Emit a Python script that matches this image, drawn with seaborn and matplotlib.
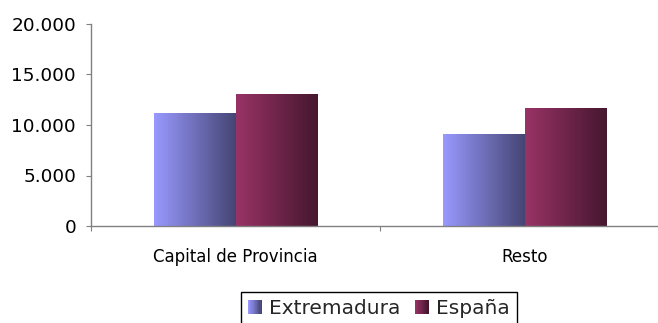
import numpy as np
import pandas as pd
import matplotlib
matplotlib.use("Agg")
import matplotlib.pyplot as plt
import seaborn as sns
from matplotlib.patches import Rectangle, Patch
from matplotlib.legend_handler import HandlerBase
from matplotlib.ticker import FuncFormatter, FixedLocator
from matplotlib.colors import to_rgb

# ---- data ----
categorias = ["Capital de Provincia", "Resto"]
series = ["Extremadura", "España"]
extremadura = [11100, 9100]
espana = [13050, 11600]
y_ticks = [0, 5000, 10000, 15000, 20000]

# gradient colours (left -> right) per series
grad_colors = {
    "Extremadura": ("#9999FF", "#454574"),
    "España": ("#993366", "#46172F"),
}

df = pd.DataFrame({
    "categoria": categorias * 2,
    "serie": [series[0]] * 2 + [series[1]] * 2,
    "valor": extremadura + espana,
})

sns.set_style("white")
plt.rcParams["font.family"] = ["DejaVu Sans"]

W, H = 658, 323
fig = plt.figure(figsize=(W / 100, H / 100), dpi=100)
ax = fig.add_axes([91 / W, 1 - 226 / H, 578 / W, 202 / H])

palette = {"Extremadura": "#9999FF", "España": "#993366"}
sns.barplot(data=df, x="categoria", y="valor", hue="serie", order=categorias,
            hue_order=series, palette=palette, width=0.567, ax=ax,
            legend=False, saturation=1, edgecolor="none", linewidth=0)

# replace each bar by a horizontal gradient
key_by_color = {tuple(np.round(to_rgb(v), 3)): k for k, v in palette.items()}
for p in list(ax.patches):
    fc = tuple(np.round(p.get_facecolor()[:3], 3))
    name = key_by_color.get(fc)
    if name is None:
        continue
    x0, y0 = p.get_x(), p.get_y()
    w, h = p.get_width(), p.get_height()
    c0 = np.array(to_rgb(grad_colors[name][0]))
    c1 = np.array(to_rgb(grad_colors[name][1]))
    t = np.linspace(0, 1, 256)[None, :, None]
    img = c0[None, None, :] * (1 - t) + c1[None, None, :] * t
    ax.imshow(img, extent=[x0, x0 + w, y0, y0 + h], aspect="auto",
              interpolation="bilinear", zorder=2)
    p.set_visible(False)

ax.set_xlim(-0.5, 1.5)
ax.set_ylim(0, 20000)
ax.set_xlabel("")
ax.set_ylabel("")

ax.set_yticks(y_ticks)
ax.yaxis.set_major_formatter(FuncFormatter(lambda v, p: f"{int(v):,}".replace(",", ".")))
ax.tick_params(axis="y", which="major", direction="out", length=3.6, width=0.8,
               color="#808080", pad=7.2, labelsize=13.3, labelcolor="black", left=True)
ax.set_xticks([0, 1])
ax.set_xticklabels(categorias)
ax.tick_params(axis="x", which="major", length=0, pad=15.5, labelsize=12, labelcolor="black")
ax.xaxis.set_minor_locator(FixedLocator([-0.5, 0.5, 1.5]))
ax.tick_params(axis="x", which="minor", direction="out", length=3.6, width=0.8,
               color="#808080", bottom=True)

for s in ["top", "right"]:
    ax.spines[s].set_visible(False)
for s in ["left", "bottom"]:
    ax.spines[s].set_color("#808080")
    ax.spines[s].set_linewidth(1.0)
ax.grid(False)


class GradHandler(HandlerBase):
    def __init__(self, c0, c1, n=12):
        super().__init__()
        self.c0 = np.array(to_rgb(c0))
        self.c1 = np.array(to_rgb(c1))
        self.n = n

    def create_artists(self, legend, orig_handle, xdescent, ydescent,
                       width, height, fontsize, trans):
        arts = []
        for i in range(self.n):
            t = i / (self.n - 1)
            c = self.c0 * (1 - t) + self.c1 * t
            r = Rectangle((-xdescent + i * width / self.n, -ydescent),
                          width / self.n + 0.05, height, facecolor=c,
                          edgecolor="none", transform=trans)
            arts.append(r)
        return arts


handles = [Patch(label=s) for s in series]
hmap = {h: GradHandler(*grad_colors[s]) for h, s in zip(handles, series)}
leg = fig.legend(handles=handles, labels=series, handler_map=hmap,
                 loc="upper left", bbox_to_anchor=(241 / W, 1 - 292 / H),
                 bbox_transform=fig.transFigure, borderaxespad=0,
                 ncol=2, fontsize=14.5, handlelength=0.68, handleheight=0.72,
                 handletextpad=0.38, columnspacing=0.7, borderpad=0.35,
                 fancybox=False, frameon=True, shadow=False)
leg.get_frame().set_edgecolor("black")
leg.get_frame().set_linewidth(1.0)
leg.get_frame().set_alpha(1)

fig.savefig("out.png", dpi=100)
